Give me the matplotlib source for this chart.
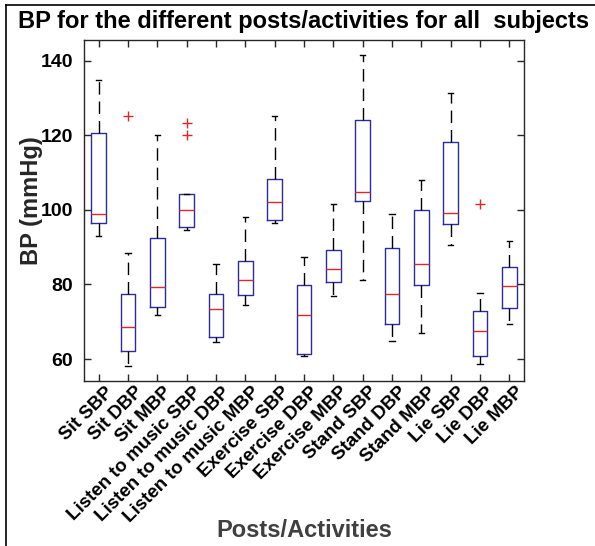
import matplotlib
matplotlib.use("Agg")
import matplotlib.pyplot as plt
import matplotlib.transforms as mtransforms
from matplotlib.lines import Line2D

# Категории (посты/активности)
labels = ['Sit SBP', 'Sit DBP', 'Sit MBP',
          'Listen to music SBP', 'Listen to music DBP', 'Listen to music MBP',
          'Exercise SBP', 'Exercise DBP', 'Exercise MBP',
          'Stand SBP', 'Stand DBP', 'Stand MBP',
          'Lie SBP', 'Lie DBP', 'Lie MBP']

# Статистики ящиков (mmHg)
whislo = [93.0, 58.0, 71.9, 94.7, 64.5, 74.4, 96.6, 60.8, 76.8, 81.1, 64.9, 67.0, 90.6, 58.7, 69.4]
q1 = [96.4, 62.1, 74.0, 95.4, 66.0, 77.1, 97.2, 61.3, 80.7, 102.4, 69.5, 79.9, 96.2, 60.7, 73.7]
med = [98.9, 68.5, 79.3, 100.0, 73.4, 81.3, 102.1, 71.9, 84.1, 104.8, 77.5, 85.4, 99.2, 67.4, 79.6]
q3 = [120.6, 77.5, 92.5, 104.2, 77.5, 86.3, 108.4, 79.9, 89.3, 124.1, 89.9, 99.9, 118.2, 73.0, 84.7]
whishi = [134.9, 88.4, 120.0, 104.2, 85.6, 98.2, 125.2, 87.5, 101.5, 141.5, 98.8, 108.0, 131.5, 77.8, 91.8]
fliers = [[], [125.3], [], [120.0, 123.3], [], [], [], [], [], [], [], [], [], [101.6], []]

yticks = [60, 80, 100, 120, 140]

stats = []
for i in range(len(labels)):
    stats.append({'label': labels[i], 'whislo': whislo[i], 'q1': q1[i], 'med': med[i],
                  'q3': q3[i], 'whishi': whishi[i], 'fliers': fliers[i]})

plt.rcParams['font.family'] = ['Liberation Sans', 'DejaVu Sans']
plt.rcParams['font.weight'] = 'bold'

fig = plt.figure(figsize=(5.95, 5.46), dpi=100)
ax = fig.add_axes([84 / 595, 1 - 381 / 546, 440 / 595, 341 / 546])

ax.bxp(stats, widths=0.5, capwidths=0.18, showfliers=True,
       boxprops=dict(color='#2b2ba0', linewidth=1.0),
       medianprops=dict(color='#e02828', linewidth=1.0),
       whiskerprops=dict(color='black', linewidth=1.0, linestyle=(0, (9, 5))),
       capprops=dict(color='black', linewidth=1.0),
       flierprops=dict(marker='+', markeredgecolor='#e02828', markersize=7, markeredgewidth=1.0))

ax.set_xlim(0.5, 15.5)
ax.set_ylim(54.1, 145.6)
ax.set_yticks(yticks)
ax.set_xticks(range(1, len(labels) + 1))
ax.set_xticklabels(labels, rotation=45, ha='right', va='top', rotation_mode='anchor', fontsize=13.5)

# Тики внутрь со всех сторон, как в MATLAB
ax.tick_params(direction='in', length=5, width=1, colors='#262626',
               top=True, right=True, labelsize=14, pad=8)
ax.tick_params(axis='x', labelsize=13.5, pad=4)
# сдвигаем подписи оси X немного вправо и вверх
shift = mtransforms.ScaledTranslation(0.06, 0.03, fig.dpi_scale_trans)
for lab in ax.get_xticklabels():
    lab.set_transform(lab.get_transform() + shift)
for lab in ax.get_xticklabels() + ax.get_yticklabels():
    lab.set_color('black')
for sp in ax.spines.values():
    sp.set_color('#262626')
    sp.set_linewidth(1)

ax.set_title('BP for the different posts/activities for all  subjects',
             fontsize=17, fontweight='bold', pad=8.6)
ax.set_ylabel('BP (mmHg)', fontsize=17, fontweight='bold', color='#262626')
ax.yaxis.set_label_coords(-0.093, 0.53)
ax.set_xlabel('Posts/Activities', fontsize=17, fontweight='bold', color='#404040')
ax.xaxis.set_label_coords(0.5, -0.405)

# Рамка картинки (левая и верхняя линии)
fig.add_artist(Line2D([6 / 595, 6 / 595], [0, 1 - 5 / 546], color='black', linewidth=1.2))
fig.add_artist(Line2D([6 / 595, 1], [1 - 5 / 546, 1 - 5 / 546], color='black', linewidth=1.2))

fig.savefig('out.png', dpi=100)
plt.close(fig)
